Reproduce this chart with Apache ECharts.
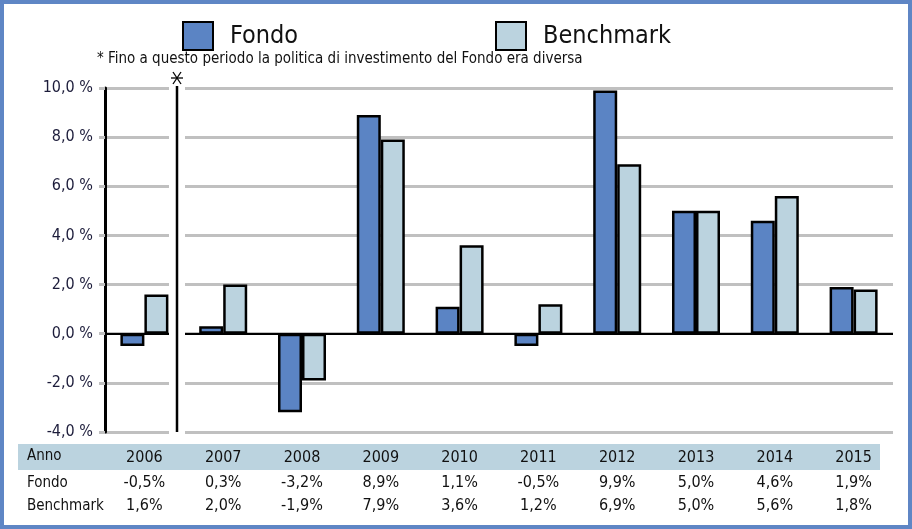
<!DOCTYPE html>
<html><head><meta charset="utf-8">
<script src="https://cdn.jsdelivr.net/npm/echarts@6/dist/echarts.min.js"></script>
<style>html,body{margin:0;padding:0;background:#fff}#c{width:912px;height:529px}</style>
</head><body><div id="c"></div>
<script>
const years = ['2006','2007','2008','2009','2010','2011','2012','2013','2014','2015'];
const fondo = [-0.5, 0.3, -3.2, 8.9, 1.1, -0.5, 9.9, 5.0, 4.6, 1.9];
const benchmark = [1.6, 2.0, -1.9, 7.9, 3.6, 1.2, 6.9, 5.0, 5.6, 1.8];
const yMin = -4, yMax = 10, yStep = 2;
const rowLabels = ['Anno', 'Fondo', 'Benchmark'];
const seriesNames = ['Fondo', 'Benchmark'];
const note = '* Fino a questo periodo la politica di investimento del Fondo era diversa';

const FONT = "'Liberation Sans Narrow','DejaVu Sans Condensed',sans-serif";
const C_FONDO = '#5B84C4', C_BENCH = '#BBD3DF', C_FRAME = '#5F86C5';
function pct(v){ return v.toFixed(1).replace('.', ',') + '%'; }

const chart = echarts.init(document.getElementById('c'), null, {renderer:'canvas'});
const barStyle = c => ({color:c, borderColor:'#000', borderWidth:2.5});
const legendBase = {itemWidth:30, itemHeight:28, icon:'rect', top:16,
  itemStyle:{borderColor:'#000', borderWidth:2},
  textStyle:{fontFamily:FONT, fontSize:25, color:'#111', padding:[0,0,0,12]}};

chart.setOption({
  animation:false,
  grid:{left:105, right:19, top:88, bottom:97, containLabel:false},
  legend:[
    Object.assign({data:[seriesNames[0]], left:177}, legendBase),
    Object.assign({data:[seriesNames[1]], left:490}, legendBase)
  ],
  xAxis:{type:'category', data:years, position:'bottom',
    axisLine:{show:false}, axisTick:{show:false}, splitLine:{show:false},
    axisLabel:{margin:13, interval:0,
      formatter:(v,i)=>`{y|${v}}\n{v|${pct(fondo[i])}}\n{v|${pct(benchmark[i])}}`,
      rich:{y:{fontFamily:FONT, fontSize:16, color:'#111', lineHeight:26},
            v:{fontFamily:FONT, fontSize:16, color:'#111', lineHeight:23}}}},
  yAxis:{type:'value', min:yMin, max:yMax, interval:yStep,
    axisLine:{show:true, lineStyle:{color:'#000', width:3}},
    axisTick:{show:true, length:6, lineStyle:{color:'#C0C0C0', width:3}},
    splitLine:{show:true, lineStyle:{color:'#C0C0C0', width:3}},
    axisLabel:{margin:12, fontFamily:FONT, fontSize:16, color:'#1c1c3a',
      formatter:v=>v.toFixed(1).replace('.', ',') + ' %'}},
  series:[
    {name:seriesNames[0], type:'bar', data:fondo, barWidth:24, barGap:'0%', itemStyle:barStyle(C_FONDO),
     markLine:{silent:true, symbol:'none', label:{show:false}, data:[{yAxis:0}],
       lineStyle:{color:'#000', width:2, type:'solid'}}, z:3},
    {name:seriesNames[1], type:'bar', data:benchmark, barWidth:24, itemStyle:barStyle(C_BENCH), z:3}
  ]
});

const c0 = chart.convertToPixel({xAxisIndex:0}, years[0]);
const c1 = chart.convertToPixel({xAxisIndex:0}, years[1]);
const sepX = Math.round(c0 + (c1 - c0) * 0.42);
const yTop = chart.convertToPixel({yAxisIndex:0}, yMax);
const yBot = chart.convertToPixel({yAxisIndex:0}, yMin);
const ay = yTop - 10;

chart.setOption({
  graphic:[
    {type:'rect', z:0, shape:{x:18, y:444, width:862, height:26}, style:{fill:C_BENCH}},
    {type:'rect', z:50, shape:{x:sepX-8, y:yTop-4, width:16, height:yBot-yTop+8}, style:{fill:'#fff'}},
    {type:'line', z:51, shape:{x1:sepX, y1:yTop-2, x2:sepX, y2:yBot}, style:{stroke:'#000', lineWidth:2.5}},
    {type:'line', z:51, shape:{x1:sepX-6, y1:ay, x2:sepX+6, y2:ay}, style:{stroke:'#000', lineWidth:1.3}},
    {type:'line', z:51, shape:{x1:sepX-4, y1:ay-6, x2:sepX+4, y2:ay+6}, style:{stroke:'#000', lineWidth:1.3}},
    {type:'line', z:51, shape:{x1:sepX+4, y1:ay-6, x2:sepX-4, y2:ay+6}, style:{stroke:'#000', lineWidth:1.3}},
    {type:'text', z:51, left:97, top:52, style:{text:note, font:`15px ${FONT}`, fill:'#111'}},
    {type:'text', z:51, left:27, top:449, style:{text:rowLabels[0], font:`15px ${FONT}`, fill:'#111'}},
    {type:'text', z:51, left:27, top:476, style:{text:rowLabels[1], font:`15px ${FONT}`, fill:'#111'}},
    {type:'text', z:51, left:27, top:499, style:{text:rowLabels[2], font:`15px ${FONT}`, fill:'#111'}},
    {type:'rect', z:60, shape:{x:2, y:2, width:908, height:525}, style:{fill:'none', stroke:C_FRAME, lineWidth:4}}
  ]
});
</script></body></html>
